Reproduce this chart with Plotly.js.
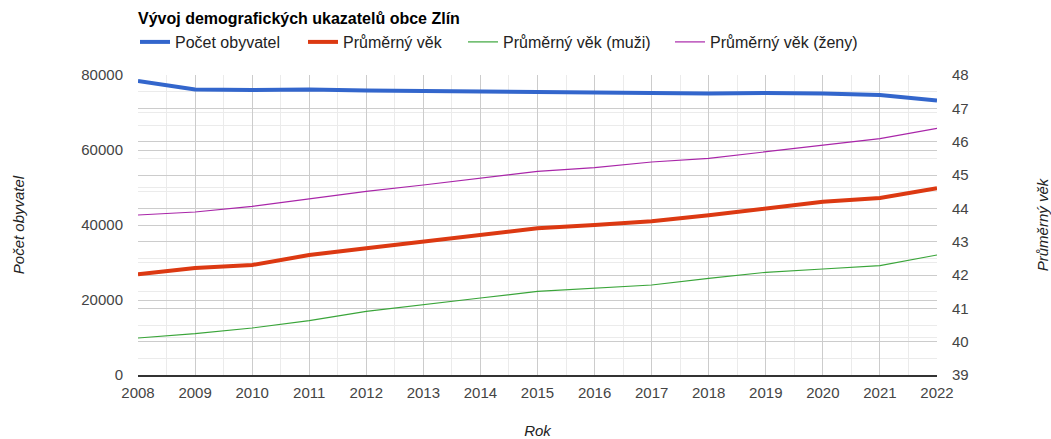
<!DOCTYPE html>
<html>
<head>
<meta charset="utf-8">
<script src="https://cdn.plot.ly/plotly-3.0.1.min.js"></script>
<style>html,body{margin:0;padding:0;background:#fff;}#chart{width:1051px;height:439px;}</style>
</head>
<body>
<div id="chart"></div>
<script>
const years = [2008,2009,2010,2011,2012,2013,2014,2015,2016,2017,2018,2019,2020,2021,2022];
const population = [78400,76150,76000,76120,75870,75750,75480,75330,75450,75330,75080,75200,75100,74650,73200];
const avgAge = [42.02,42.21,42.3,42.6,42.8,43.0,43.2,43.4,43.5,43.61,43.79,44.0,44.2,44.31,44.6];
const avgAgeMen = [40.11,40.24,40.41,40.63,40.91,41.1,41.31,41.51,41.6,41.7,41.9,42.08,42.18,42.28,42.6];
const avgAgeWomen = [43.8,43.89,44.06,44.29,44.51,44.7,44.91,45.11,45.22,45.39,45.5,45.69,45.89,46.09,46.4];
const seriesNames = ['Počet obyvatel','Průměrný věk','Průměrný věk (muži)','Průměrný věk (ženy)'];
const leftTicks = [0,20000,40000,60000,80000];
const rightTicks = [39,40,41,42,43,44,45,46,47,48];

const FONT = 'Liberation Sans, Arial, sans-serif';
const traces = [
  {x: years, y: population, name: seriesNames[0], type:'scatter', mode:'lines', yaxis:'y', legend:'legend',
   line:{color:'#3366cc', width:4}},
  {x: years, y: avgAge, name: seriesNames[1], type:'scatter', mode:'lines', yaxis:'y2', legend:'legend2',
   line:{color:'#dc3912', width:4}},
  {x: years, y: avgAgeMen, name: seriesNames[2], type:'scatter', mode:'lines', yaxis:'y2', legend:'legend3',
   line:{color:'#3aa53a', width:1.2}},
  {x: years, y: avgAgeWomen, name: seriesNames[3], type:'scatter', mode:'lines', yaxis:'y2', legend:'legend4',
   line:{color:'#a926a9', width:1.2}}
];
const PL = 138, PW = 799, PT = 75, PH = 300;
function leg(px){
  return {x: (px-PL)/PW, xanchor:'left', y: (PT+PH-42)/PH, yanchor:'middle', orientation:'h',
    font:{family:FONT, size:16, color:'#222'}, bgcolor:'rgba(0,0,0,0)', borderwidth:0,
    itemwidth:30, tracegroupgap:0};
}
const layout = {
  width:1051, height:439,
  margin:{l:138, r:114, t:75, b:64, autoexpand:false},
  paper_bgcolor:'#fff', plot_bgcolor:'#fff',
  font:{family:FONT, size:15, color:'#444'},
  title:{text:'<b>Vývoj demografických ukazatelů obce Zlín</b>', x:138/1051, xanchor:'left', y:1-18/439, yanchor:'middle',
    font:{family:FONT, size:16, color:'#000'}},
  showlegend:true,
  legend: leg(135), legend2: leg(303), legend3: leg(463), legend4: leg(670),
  xaxis:{range:[2008,2022], tickmode:'array', tickvals:years, ticktext:years.map(String),
    showgrid:true, gridcolor:'#cccccc', gridwidth:1,
    minor:{dtick:0.5, tick0:2008, showgrid:true, gridcolor:'#ebebeb', gridwidth:1},
    showline:true, linecolor:'#333', linewidth:1.5, zeroline:false, ticks:'', ticklabelstandoff:3,
    tickfont:{family:FONT, size:15, color:'#444'},
    title:{text:'Rok', font:{family:FONT, size:15, color:'#222', style:'italic'}, standoff:27},
    fixedrange:true},
  yaxis:{range:[0,80000], tickmode:'array', tickvals:leftTicks, ticktext:leftTicks.map(String),
    showgrid:true, gridcolor:'#cccccc', gridwidth:1,
    minor:{dtick:10000, showgrid:true, gridcolor:'#ebebeb', gridwidth:1},
    zeroline:false, showline:false, ticks:'', ticklabelstandoff:14,
    tickfont:{family:FONT, size:15, color:'#444'},
    title:{text:'Počet obyvatel', font:{family:FONT, size:15, color:'#222', style:'italic'}, standoff:53},
    fixedrange:true},
  yaxis2:{range:[39,48], overlaying:'y', side:'right', tickmode:'array', tickvals:rightTicks, ticktext:rightTicks.map(String),
    showgrid:true, gridcolor:'#cccccc', gridwidth:1,
    minor:{dtick:0.5, tick0:39, showgrid:true, gridcolor:'#ebebeb', gridwidth:1},
    zeroline:false, showline:false, ticks:'', ticklabelstandoff:14,
    tickfont:{family:FONT, size:15, color:'#444'},
    title:{text:'Průměrný věk', font:{family:FONT, size:15, color:'#222', style:'italic'}, standoff:70},
    fixedrange:true},
};
Plotly.newPlot('chart', traces, layout, {displayModeBar:false, staticPlot:true});
</script>
</body>
</html>
